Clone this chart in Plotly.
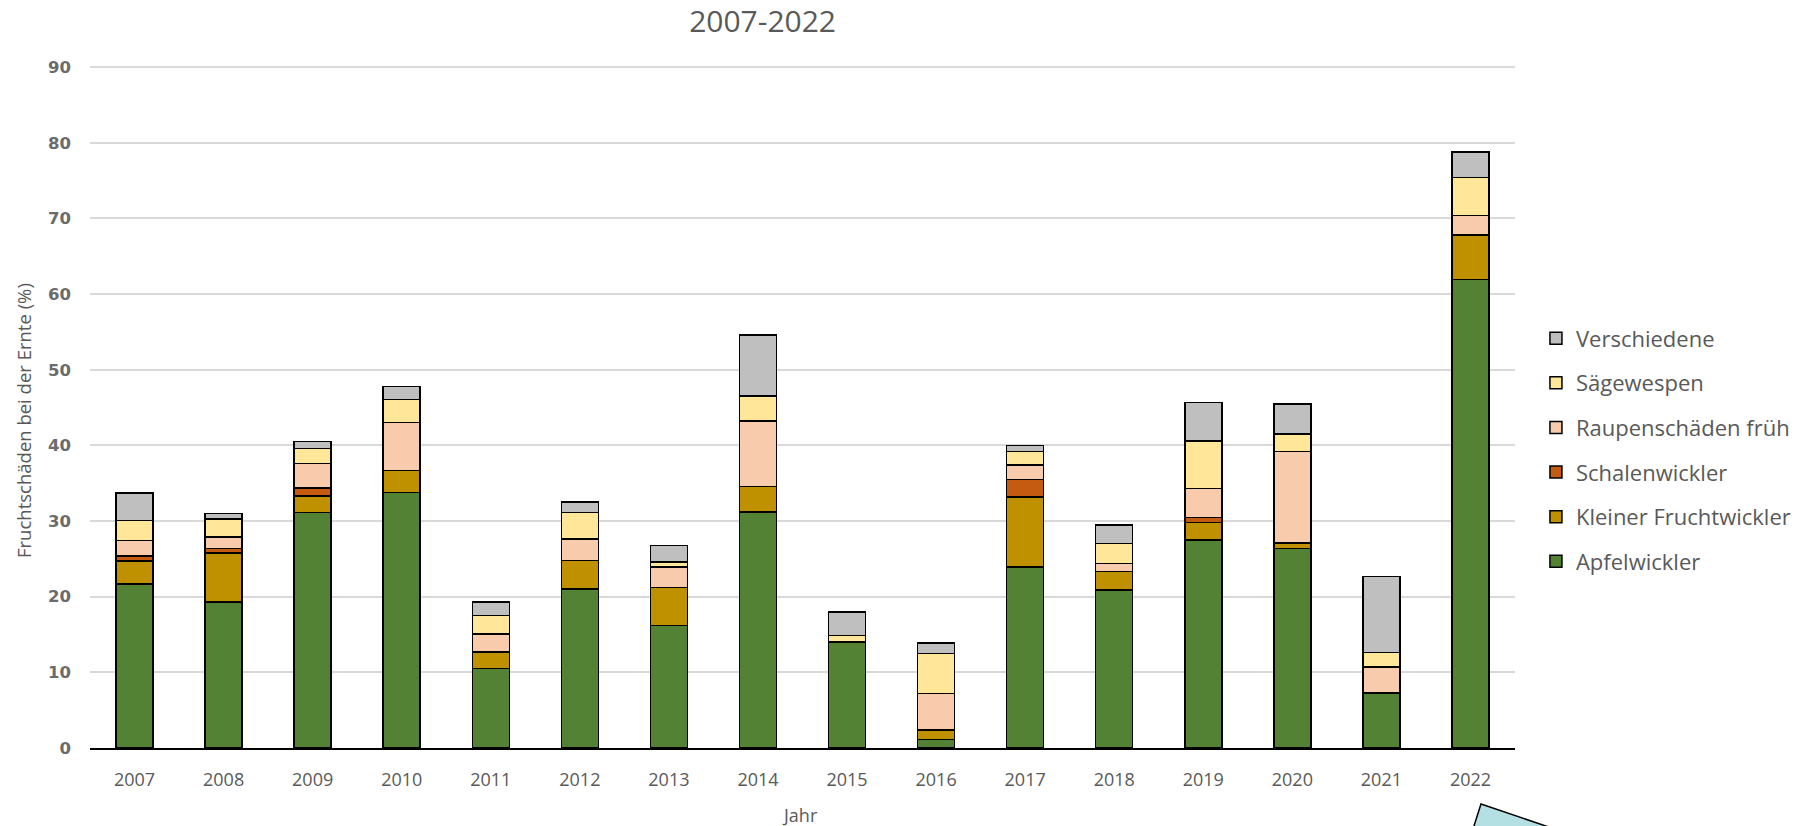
import plotly.graph_objects as go

# Fruit damage at harvest (%) per year, split by cause
years = [str(y) for y in range(2007, 2023)]

apfelwickler = [21.7, 19.3, 31.1, 33.8, 10.5, 21.0, 16.2, 31.2, 14.0, 1.1, 23.9, 20.9, 27.5, 26.4, 7.3, 61.9]
kleiner_fruchtwickler = [3.0, 6.5, 2.2, 2.9, 2.2, 3.8, 5.0, 3.4, 0.0, 1.3, 9.3, 2.4, 2.3, 0.7, 0.0, 5.9]
schalenwickler = [0.7, 0.6, 1.1, 0.0, 0.0, 0.0, 0.0, 0.0, 0.0, 0.0, 2.3, 0.0, 0.7, 0.0, 0.0, 0.0]
raupenschaeden_frueh = [2.0, 1.5, 3.2, 6.3, 2.4, 2.8, 2.7, 8.6, 0.0, 4.8, 1.9, 1.1, 3.8, 12.1, 3.4, 2.6]
saegewespen = [2.7, 2.4, 2.0, 3.1, 2.4, 3.5, 0.7, 3.3, 0.9, 5.3, 1.8, 2.6, 6.3, 2.3, 1.9, 5.0]
verschiedene = [3.6, 0.7, 0.9, 1.7, 1.8, 1.4, 2.2, 8.1, 3.1, 1.4, 0.8, 2.5, 5.1, 4.0, 10.1, 3.4]

series = [
    ("Apfelwickler", apfelwickler, "#548235"),
    ("Kleiner Fruchtwickler", kleiner_fruchtwickler, "#bf9000"),
    ("Schalenwickler", schalenwickler, "#c55a11"),
    ("Raupenschäden früh", raupenschaeden_frueh, "#f8cbad"),
    ("Sägewespen", saegewespen, "#ffe699"),
    ("Verschiedene", verschiedene, "#bfbfbf"),
]

W, H = 1809, 826
L, R, T, B = 90, 294, 66, 78
plot_w = W - L - R
plot_h = H - T - B

fig = go.Figure()
for i, (name, vals, color) in enumerate(series):
    fig.add_trace(go.Bar(
        x=years, y=vals, name=name, legendgroup=name, legendrank=100 - i,
        marker=dict(color=color, line=dict(color="#000000", width=1.5)),
    ))

def to_paper(px, py):
    return (px - L) / plot_w, (H - B - py) / plot_h

# decorative callout corner at the bottom edge
pts = [to_paper(1481, 804), to_paper(1587, 840), to_paper(1469.5, 840)]
path = "M {} {} L {} {} L {} {} Z".format(*[c for p in pts for c in p])

grey = "#595959"
fig.update_layout(
    width=W, height=H,
    margin=dict(l=L, r=R, t=T, b=B),
    paper_bgcolor="white", plot_bgcolor="white",
    barmode="stack", bargap=0.585,
    font=dict(family="Open Sans", color=grey),
    title=dict(text="2007-2022", x=0.472, xref="paper", xanchor="center",
               y=1 - 21 / H, yref="container", yanchor="middle",
               font=dict(family="Open Sans", size=30, color=grey)),
    legend=dict(x=1.0147, xanchor="left", y=0.437, yanchor="middle",
                traceorder="grouped", tracegroupgap=13,
                font=dict(family="Open Sans", size=22, color=grey),
                bgcolor="rgba(0,0,0,0)"),
    xaxis=dict(
        type="category", showgrid=False, showline=True, linecolor="#000000", linewidth=1.5,
        ticks="", tickfont=dict(family="Open Sans", size=18, color=grey),
        ticklabelstandoff=15, automargin=False,
    ),
    yaxis=dict(
        range=[0, 90.15], tick0=0, dtick=10, showgrid=True, gridcolor="#d9d9d9", gridwidth=1.5,
        zeroline=False, showline=False, ticks="", automargin=False,
        tickfont=dict(family="DejaVu Sans", size=16.5, color="#6b6b6b", weight="bold"),
        ticklabelstandoff=18,
    ),
    annotations=[
        dict(text="Fruchtschäden bei der Ernte (%)", textangle=-90,
             xref="paper", yref="paper", x=to_paper(23, 421)[0], y=to_paper(23, 421)[1],
             xanchor="center", yanchor="middle", showarrow=False,
             font=dict(family="Open Sans", size=18.5, color=grey)),
        dict(text="Jahr", xref="paper", yref="paper",
             x=to_paper(800, 815)[0], y=to_paper(800, 815)[1],
             xanchor="center", yanchor="middle", showarrow=False,
             font=dict(family="Open Sans", size=18, color=grey)),
    ],
    shapes=[dict(type="path", path=path, xref="paper", yref="paper",
                 fillcolor="#b5e0e3", line=dict(color="#000000", width=1.5), layer="above")],
)

fig.write_html("out.html")
